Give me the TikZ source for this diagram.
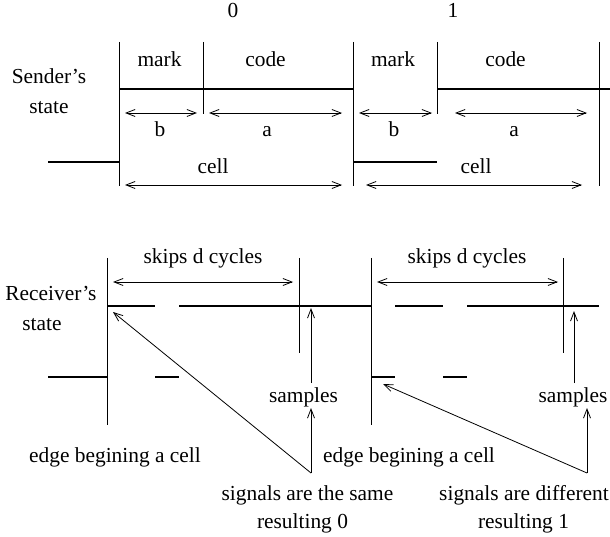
\documentclass[tikz,border=0pt]{standalone}
\usepackage{fontspec}
\setmainfont{Liberation Serif}
\usetikzlibrary{arrows.meta}
\begin{document}
\begin{tikzpicture}[x=1pt,y=-1pt,
  txt/.style={font=\fontsize{21.4}{25}\selectfont, inner sep=0pt, anchor=base},
  sigline/.style={line width=2.3pt},
  rule/.style={line width=0.9pt},
  dimarrow/.style={line width=0.8pt, {Straight Barb[length=9pt,width=7pt]}-{Straight Barb[length=9pt,width=7pt]}},
  ptr/.style={line width=0.8pt, -{Straight Barb[length=9pt,width=7pt]}},
]
\useasboundingbox (0,0) rectangle (610,537);

% ---------- Sender ----------
\node[txt] (zero) at (233,18) {0};
\node[txt] (one) at (453,18) {1};
\node[txt] (mark1) at (159.5,67) {mark};
\node[txt] (code1) at (265.5,67) {code};
\node[txt] (mark2) at (393,67) {mark};
\node[txt] (code2) at (505.5,67) {code};
\node[txt] (sender) at (49,84) {Sender's};
\node[txt] (sstate) at (49,114) {state};
\node[txt] (b1) at (160,137) {b};
\node[txt] (a1) at (267,137) {a};
\node[txt] (b2) at (394,137) {b};
\node[txt] (a2) at (514,137) {a};
\node[txt] (cell1) at (213,174) {cell};
\node[txt] (cell2) at (476,174) {cell};

\draw[rule] (119,42) -- (119,186);
\draw[rule] (203,42) -- (203,114);
\draw[rule] (353,42) -- (353,186);
\draw[rule] (437,42) -- (437,114);
\draw[rule] (599,42) -- (599,186);

\draw[sigline] (48,162) -- (119,162);
\draw[sigline] (119,89) -- (353,89);
\draw[sigline] (353,162) -- (437,162);
\draw[sigline] (437,89) -- (610,89);

\draw[dimarrow] (125,113) -- (197,113);
\draw[dimarrow] (209,113) -- (342,113);
\draw[dimarrow] (359,113) -- (432,113);
\draw[dimarrow] (455,113) -- (587,113);
\draw[dimarrow] (125,185) -- (342,185);
\draw[dimarrow] (366,185) -- (582,185);

% ---------- Receiver ----------
\node[txt] (skip1) at (203,264) {skips d cycles};
\node[txt] (skip2) at (467,264) {skips d cycles};
\node[txt] (recv) at (51,300) {Receiver's};
\node[txt] (rstate) at (42,330) {state};

\draw[rule] (107,258) -- (107,425);
\draw[rule] (299,258) -- (299,353);
\draw[rule] (371,258) -- (371,425);
\draw[rule] (563,258) -- (563,353);

\draw[dimarrow] (113,282) -- (293,282);
\draw[dimarrow] (377,282) -- (558,282);

\draw[sigline] (107,306) -- (155,306);
\draw[sigline] (179,306) -- (371,306);
\draw[sigline] (395,306) -- (443,306);
\draw[sigline] (467,306) -- (599,306);
\draw[sigline] (48,377) -- (107,377);
\draw[sigline] (155,377) -- (179,377);
\draw[sigline] (371,377) -- (395,377);
\draw[sigline] (443,377) -- (467,377);

\node[txt] (samp1) at (303.5,402) {samples};
\node[txt] (samp2) at (573,402) {samples};
\node[txt] (edge1) at (115,462) {edge begining a cell};
\node[txt] (edge2) at (409,462) {edge begining a cell};
\node[txt] (same) at (307.5,500) {signals are the same};
\node[txt] (res0) at (302.5,528) {resulting 0};
\node[txt] (diff) at (524,500) {signals are different};
\node[txt] (res1) at (523.5,528) {resulting 1};

\coordinate (s1from) at (311,383);
\coordinate (s1to) at (311,308);
\coordinate (s2from) at (574,383);
\coordinate (s2to) at (574,311);
\draw[ptr] (s1from) -- (s1to);
\draw[ptr] (s2from) -- (s2to);

\coordinate (j1) at (311,473);
\coordinate (j2) at (587,473);
\coordinate (j1up) at (311,408);
\coordinate (j2up) at (587,408);
\coordinate (edgeA) at (113,312);
\coordinate (edgeB) at (383,384);
\draw[ptr] (j1) -- (j1up);
\draw[ptr] (j1) -- (edgeA);
\draw[ptr] (j2) -- (j2up);
\draw[ptr] (j2) -- (edgeB);
\end{tikzpicture}
\end{document}
